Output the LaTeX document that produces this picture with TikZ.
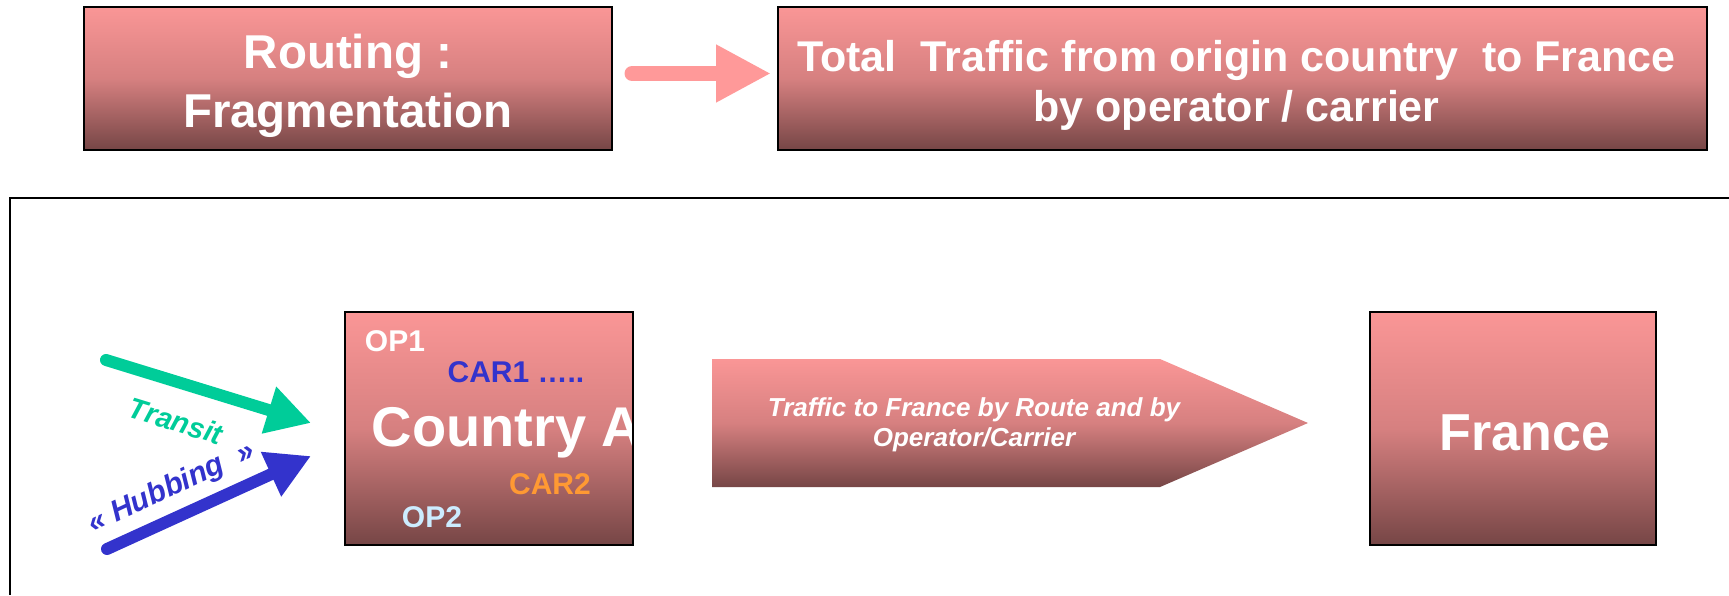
\documentclass[tikz,border=0pt]{standalone}
\usepackage{fontspec}
\setmainfont{Liberation Sans}
\usetikzlibrary{arrows.meta,positioning}

\definecolor{boxtop}{RGB}{250,150,150}
\definecolor{boxmid}{RGB}{214,128,128}
\definecolor{boxbot}{RGB}{118,70,70}
\definecolor{pinkarrow}{RGB}{255,153,153}
\definecolor{transitgreen}{RGB}{0,204,153}
\definecolor{hubblue}{RGB}{51,51,204}
\definecolor{carorange}{RGB}{255,153,51}
\definecolor{oplight}{RGB}{204,236,255}

\tikzset{
  grad/.style={top color=boxtop, bottom color=boxbot, middle color=boxmid},
  gradbox/.style={grad, draw=black, line width=2pt, inner sep=0pt},
  headline/.style 2 args={text=white, align=center, inner sep=0pt, font=\fontsize{#1}{#2}\selectfont\bfseries},
  tag/.style={inner sep=0pt, font=\fontsize{30}{30}\selectfont\bfseries},
  flow/.style={line width=12pt, line cap=round, -{Triangle[length=44pt,width=46pt]}},
  flowtag/.style={inner sep=0pt, font=\fontsize{#1}{#1}\selectfont\bfseries\itshape},
}

\begin{document}
\begin{tikzpicture}[x=1pt,y=-1pt]
  \useasboundingbox (0,0) rectangle (1729,595);

  % header
  \node[gradbox, minimum width=528pt, minimum height=143pt] (routing) at (348,78.5) {};
  \node[gradbox, minimum width=929pt, minimum height=143pt] (total) at (1242.5,78.5) {};
  \node[headline={47.5}{59}] (routinglbl) at ([yshift=-7pt]routing.center) {Routing :\\Fragmentation};
  \node[headline={43}{50}] (totallbl) at ([xshift=-6pt,yshift=-6.5pt]total.center)
    {Total\ \ Traffic from origin country\ \ to France\\by operator / carrier};
  \draw[pinkarrow, line width=15pt, line cap=round, -{Triangle[length=55pt,width=54pt]}]
    ([xshift=19pt,yshift=5pt]routing.east) -- ([xshift=-6pt,yshift=5pt]total.west);

  % frame round the lower part
  \draw[line width=1.5pt] (1729,198) -- (10,198) -- (10,595);

  % origin country, operators and carriers
  \node[gradbox, minimum width=288pt, minimum height=233pt,
        path picture={\node[anchor=west, inner sep=0pt, text=white, font=\fontsize{56}{56}\selectfont\bfseries]
          at ([xshift=17pt,yshift=-4.5pt]path picture bounding box.west) {Country A};}] (ctryA) at (489,428.5) {};
  \node[tag, text=white] (op1) at (395,341) {OP1};
  \node[tag, text=hubblue] (car1) at (516,372) {CAR1 …..};
  \node[tag, text=carorange] (car2) at (550,484) {CAR2};
  \node[tag, text=oplight] (op2) at (432,517) {OP2};

  % incoming traffic
  \coordinate (transitin) at (106,360);
  \coordinate (hubin) at (107,549);
  \draw[flow, transitgreen] (transitin) -- ([xshift=-33pt,yshift=5.5pt]ctryA.west);
  \draw[flow, hubblue] (hubin) -- ([xshift=-33pt,yshift=-27.5pt]ctryA.west);
  \node[flowtag=29, text=transitgreen, rotate=-17] (transitlbl) at (176,421) {Transit};
  \node[flowtag=30, text=hubblue, rotate=25] (hublbl) at (172,488) {« Hubbing\ \ »};

  % route arrow towards France
  \shade[grad] (712,359) -- (1160,359) -- (1308,423) -- (1160,487) -- (712,487) -- cycle;
  \node[text=white, align=center, font=\fontsize{26}{30}\selectfont\bfseries\itshape] (routelbl) at (974,425)
    {Traffic to France by Route and by\\Operator/Carrier};

  % destination
  \node[gradbox, minimum width=286pt, minimum height=233pt] (france) at (1513,428.5) {};
  \node[text=white, inner sep=0pt, font=\fontsize{52}{52}\selectfont\bfseries] (francelbl)
    at ([xshift=12pt,yshift=-4.5pt]france.center) {France};
\end{tikzpicture}
\end{document}
